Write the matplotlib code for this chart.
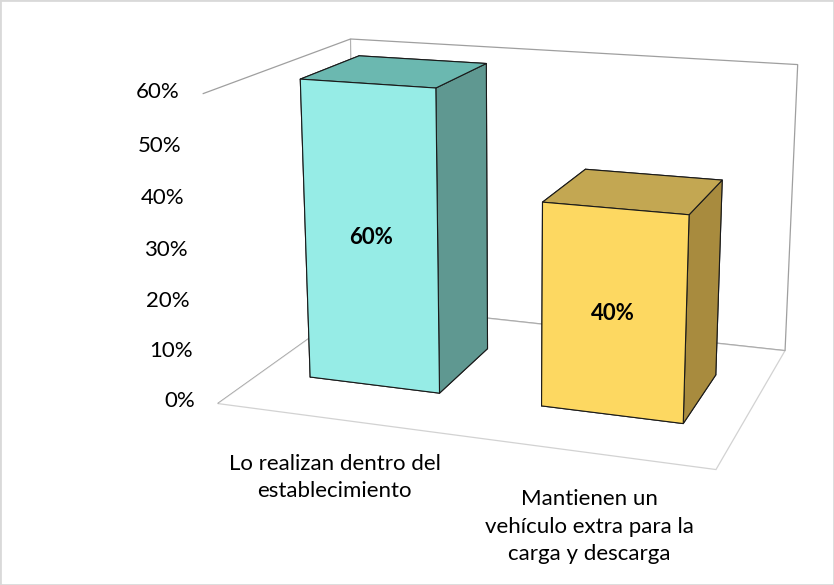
import matplotlib
matplotlib.use('Agg')
import matplotlib.pyplot as plt
from matplotlib.patches import Rectangle
from mpl_toolkits.mplot3d import proj3d
import numpy as np

categories = ['Lo realizan dentro del\nestablecimiento',
              'Mantienen un\nvehículo extra para la\ncarga y descarga']
values = [0.60, 0.40]
value_labels = ['60%', '40%']
zticks = [0, 0.1, 0.2, 0.3, 0.4, 0.5, 0.6]
ztick_labels = ['0%', '10%', '20%', '30%', '40%', '50%', '60%']

front_colors = ['#96ECE6', '#FDD861']
top_colors = ['#6BB8B0', '#C3A752']
side_colors = ['#5F9891', '#A88B3E']

plt.rcParams['font.family'] = ['Lato', 'DejaVu Sans']

fig = plt.figure(figsize=(8.34, 5.85), dpi=100)
ax = fig.add_axes([0.106, 0.092, 1.0, 1.0], projection='3d')
ax.set_facecolor('none')
ax.set_proj_type('persp', focal_length=0.55)
ax.view_init(elev=15.5, azim=-71)
ax.set_box_aspect((2.0, 1.35, 1.24), zoom=1.12)

n = len(values)
w = 0.57
xs = np.arange(n) - w / 2
y0, d = 0.29, 0.42
colors = []
for i in range(n):
    # bottom, top, front, back, left, right
    colors += [front_colors[i], top_colors[i], front_colors[i],
               front_colors[i], front_colors[i], side_colors[i]]
ax.bar3d(xs, [y0] * n, [0] * n, w, d, values, color=colors,
         edgecolor='#1a1a1a', linewidth=0.8, shade=False)
ax.set_xlim(-0.5, 1.5)
ax.set_ylim(0, 1)
ax.set_zlim(0, 0.6)

for axis in (ax.xaxis, ax.yaxis, ax.zaxis):
    axis.set_ticks([])
    axis.line.set_color((0, 0, 0, 0))
    axis.label.set_visible(False)
    axis.offsetText.set_visible(False)
    axis.pane.set_facecolor('white')
    axis.pane.set_edgecolor('#404040')
    axis.pane.set_linewidth(0.9)
ax.zaxis.pane.set_edgecolor('#a6a6a6')
ax.grid(False)

# project 3d points to the 2d axes coords so the texts are plain 2d texts
fig.canvas.draw()
M = ax.get_proj()


def txt(x, y, z, s, **kw):
    xp, yp, _ = proj3d.proj_transform(x, y, z, M)
    ax.text2D(xp, yp, s, transform=ax.transData, **kw)


for t, lab in zip(zticks, ztick_labels):
    txt(-0.60, 0, t, lab, ha='right', va='center', fontsize=16)

for i in range(n):
    txt(i, y0, values[i] / 2, value_labels[i], ha='center', va='center',
        fontsize=16, fontweight='bold', zorder=10)
    txt(i + 0.03 * i, 0.0, -0.07, categories[i], ha='center', va='top',
        fontsize=16, linespacing=1.45)

fig.add_artist(Rectangle((0, 0), 1, 1, transform=fig.transFigure,
                         fill=False, edgecolor='#d9d9d9', linewidth=2))
fig.savefig('out.png', dpi=100)
